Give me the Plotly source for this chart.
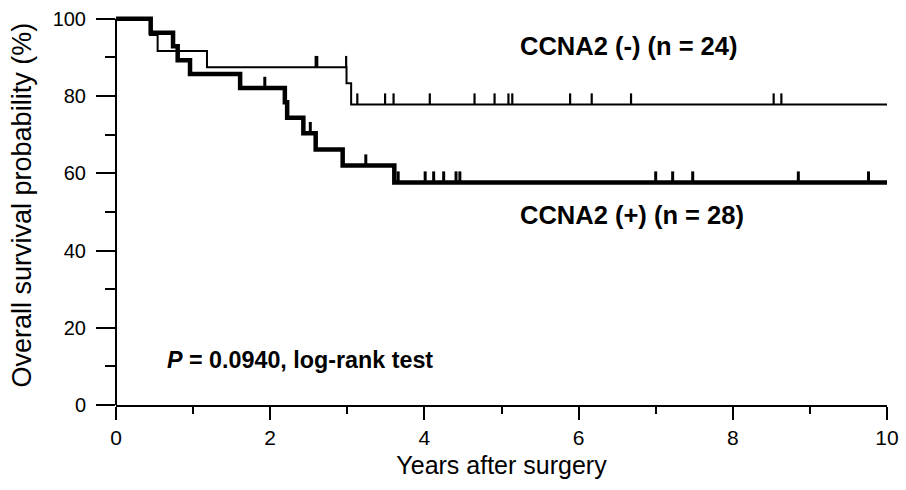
import plotly.graph_objects as go

# ---- data ----
# CCNA2 (-) : step curve (time in years, survival %)
neg_times = [0, 0.44, 0.54, 1.18, 2.99, 3.05, 10]
neg_surv = [100, 95.8, 91.7, 87.5, 83.3, 77.8, 77.8]
neg_censor = [2.59, 2.61, 2.985, 3.13, 3.49, 3.60, 4.07, 4.65, 4.91, 5.09, 5.14,
              5.89, 6.17, 6.68, 8.53, 8.63]

# CCNA2 (+)
pos_times = [0, 0.45, 0.74, 0.80, 0.96, 1.61, 2.19, 2.22, 2.43, 2.59, 2.94, 3.61, 10]
pos_surv = [100, 96.4, 92.9, 89.3, 85.7, 82.1, 78.4, 74.4, 70.4, 66.2, 62.0, 57.6, 57.6]
pos_censor = [1.93, 2.52, 3.24, 3.66, 4.01, 4.12, 4.25, 4.41, 4.46, 7.00, 7.22,
              7.48, 8.85, 9.76]

label_neg = "CCNA2 (-) (n = 24)"
label_pos = "CCNA2 (+) (n = 28)"
p_text = "<i>P</i> = 0.0940, log-rank test"
y_title = "Overall survival probability (%)"
x_title = "Years after surgery"

x_ticks = [0, 2, 4, 6, 8, 10]
x_minor = [1, 3, 5, 7, 9]
y_ticks = [0, 20, 40, 60, 80, 100]
y_minor = [10, 30, 50, 70, 90]

TICK_H = 2.9  # censor tick height in % units (style)


def surv_at(t, times, surv):
    s = surv[0]
    for ti, si in zip(times, surv):
        if ti <= t:
            s = si
    return s


def censor_xy(ctimes, times, surv):
    xs, ys = [], []
    for t in ctimes:
        s = surv_at(t, times, surv)
        xs += [t, t, None]
        ys += [s, s + TICK_H, None]
    return xs, ys


FONT = "Arial, Liberation Sans, sans-serif"

fig = go.Figure()

fig.add_trace(go.Scatter(x=pos_times, y=pos_surv, mode="lines", line_shape="hv",
                         line=dict(color="black", width=4.5), showlegend=False))
cx, cy = censor_xy(pos_censor, pos_times, pos_surv)
fig.add_trace(go.Scatter(x=cx, y=cy, mode="lines", line=dict(color="black", width=3),
                         showlegend=False))

fig.add_trace(go.Scatter(x=neg_times, y=neg_surv, mode="lines", line_shape="hv",
                         line=dict(color="black", width=2), showlegend=False))
cx, cy = censor_xy(neg_censor, neg_times, neg_surv)
fig.add_trace(go.Scatter(x=cx, y=cy, mode="lines", line=dict(color="black", width=2.2),
                         showlegend=False))

# y axis line from 0 to 100 only
fig.add_shape(type="line", xref="paper", yref="y", x0=0, x1=0, y0=0, y1=100,
              line=dict(color="black", width=2))

fig.add_annotation(x=5.21, y=93, xref="x", yref="y", text="<b>%s</b>" % label_neg,
                   showarrow=False, xanchor="left", yanchor="middle",
                   font=dict(family=FONT, size=25.5, color="black"))
fig.add_annotation(x=5.21, y=49.3, xref="x", yref="y", text="<b>%s</b>" % label_pos,
                   showarrow=False, xanchor="left", yanchor="middle",
                   font=dict(family=FONT, size=25.5, color="black"))
fig.add_annotation(x=0.64, y=11.7, xref="x", yref="y", text="<b>%s</b>" % p_text,
                   showarrow=False, xanchor="left", yanchor="middle",
                   font=dict(family=FONT, size=23.3, color="black"))
# y-axis title as rotated annotation
fig.add_annotation(x=-0.122, y=0.514, xref="paper", yref="paper", text=y_title,
                   showarrow=False, textangle=-90, xanchor="center", yanchor="middle",
                   font=dict(family=FONT, size=27, color="black"))

fig.update_layout(
    width=906, height=490,
    margin=dict(l=116, r=19, t=15, b=85, autoexpand=False),
    plot_bgcolor="white", paper_bgcolor="white",
    font=dict(family=FONT, color="black"),
    showlegend=False,
)

fig.update_xaxes(
    range=[0, 10], tickvals=x_ticks, ticktext=[str(v) for v in x_ticks],
    automargin=False,
    ticks="outside", ticklen=13, tickwidth=2, tickcolor="black",
    showline=True, linecolor="black", linewidth=2, showgrid=False, zeroline=False,
    tickfont=dict(family=FONT, size=21, color="black"),
    minor=dict(tickvals=x_minor, ticks="outside", ticklen=7, tickwidth=2, tickcolor="black"),
    title=dict(text=x_title, font=dict(family=FONT, size=25, color="black"),
               standoff=8),
)
fig.update_yaxes(
    range=[0, 101], tickvals=y_ticks, ticktext=[str(v) for v in y_ticks],
    automargin=False,
    ticks="outside", ticklen=19, tickwidth=2, tickcolor="black",
    showline=False, showgrid=False, zeroline=False,
    tickfont=dict(family=FONT, size=20, color="black"),
    ticklabelstandoff=6,
    minor=dict(tickvals=y_minor, ticks="outside", ticklen=10, tickwidth=2, tickcolor="black"),
)

fig.write_html("out.html")
